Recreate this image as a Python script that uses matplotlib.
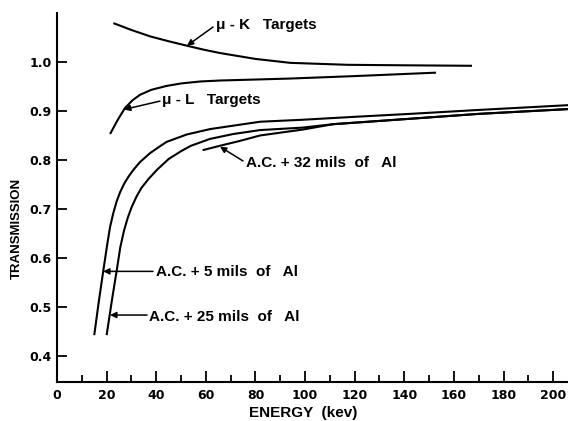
import numpy as np
import matplotlib
matplotlib.use('Agg')
import matplotlib.pyplot as plt
from matplotlib.ticker import MultipleLocator

plt.rcParams['font.family'] = ['Liberation Sans', 'DejaVu Sans']

# ─── data ───

# mu-K targets
k_energy = [22.7, 30, 37.5, 45, 52.3, 59, 65.7, 80, 94, 117, 140, 167.3]
k_trans = [1.079, 1.065, 1.052, 1.042, 1.033, 1.025, 1.018, 1.006, 0.998, 0.994, 0.993, 0.992]

# mu-L targets
l_energy = [21.4, 24.5, 27.4, 30.5, 33.5, 38, 44.2, 50, 57.7, 65.7, 80, 94, 120, 152.8]
l_trans = [0.853, 0.882, 0.906, 0.922, 0.933, 0.943, 0.951, 0.956, 0.960, 0.962, 0.964, 0.966, 0.971, 0.978]

# A.C. + 5 mils of Al
al5_energy = [15.0, 16.8, 18.7, 20.3, 21.4, 22.7, 24.0, 25.4, 27.0, 28.8, 30.8, 33.5, 37.5,
              41.5, 44.2, 52.3, 61.7, 71.1, 81.9, 99, 120, 142.3, 170, 207]
al5_trans = [0.443, 0.510, 0.576, 0.630, 0.664, 0.692, 0.715, 0.734, 0.751, 0.766, 0.780, 0.796, 0.814,
             0.828, 0.837, 0.852, 0.863, 0.870, 0.878, 0.882, 0.888, 0.894, 0.902, 0.912]

# A.C. + 25 mils of Al
al25_energy = [20.0, 22.0, 24.1, 25.5, 27.0, 28.5, 30.0, 32.0, 34.0, 37.0, 40.5, 45.0, 50.0,
               54.0, 61.7, 71.1, 81.9, 99, 111.4, 142.3, 170, 207]
al25_trans = [0.443, 0.510, 0.576, 0.622, 0.656, 0.682, 0.703, 0.725, 0.743, 0.762, 0.781, 0.802, 0.818,
              0.829, 0.843, 0.853, 0.861, 0.866, 0.873, 0.884, 0.894, 0.904]

# A.C. + 32 mils of Al
al32_energy = [58.7, 65.7, 73.8, 81.9, 99, 111.4, 142.3, 170, 207]
al32_trans = [0.820, 0.829, 0.839, 0.850, 0.862, 0.873, 0.884, 0.894, 0.904]

x_ticks = list(range(0, 201, 20))
y_ticks = [0.4, 0.5, 0.6, 0.7, 0.8, 0.9, 1.0]

fig = plt.figure(figsize=(5.68, 4.21), dpi=100)
ax = fig.add_axes([0.1004, 0.0926, 0.8996, 0.877])

for e, t in [(k_energy, k_trans), (l_energy, l_trans), (al5_energy, al5_trans),
             (al25_energy, al25_trans), (al32_energy, al32_trans)]:
    ax.plot(e, t, color='black', lw=1.5, solid_capstyle='butt', solid_joinstyle='round')

ax.set_xlim(0, 206)
ax.set_ylim(0.3475, 1.1)

ax.spines['top'].set_visible(False)
ax.spines['right'].set_visible(False)
for s in ['left', 'bottom']:
    ax.spines[s].set_linewidth(1.5)

ax.set_xticks(x_ticks)
ax.set_xticklabels([str(v) for v in x_ticks])
ax.xaxis.set_minor_locator(MultipleLocator(10))
ax.set_yticks(y_ticks)
ax.set_yticklabels([f"{v:.1f}" for v in y_ticks])

ax.tick_params(axis='x', which='major', direction='in', length=8, width=1.3,
               labelsize=9, pad=5)
ax.tick_params(axis='x', which='minor', direction='in', length=5, width=1.3)
ax.tick_params(axis='y', which='major', direction='in', length=7, width=1.3,
               labelsize=9, pad=4)
for lab in ax.get_xticklabels() + ax.get_yticklabels():
    lab.set_fontweight('bold')
    lab.set_family('DejaVu Sans')

ax.set_xlabel("ENERGY  (kev)", fontsize=11, fontweight='bold')
ax.xaxis.set_label_coords(0.481, -0.066)
ax.set_ylabel("TRANSMISSION", fontsize=9.5, fontweight='bold')
ax.yaxis.set_label_coords(-0.066, 0.417)

arrow = dict(arrowstyle='-|>', color='black', lw=1.1, mutation_scale=9,
             shrinkA=0, shrinkB=0)
txt = dict(fontsize=11, fontweight='bold', ha='left', va='center')

# labels with leader arrows
ax.annotate("", xy=(52.4, 1.033), xytext=(62.9, 1.071), arrowprops=arrow)
ax.text(64.0, 1.0755, "\u03bc - K   Targets", **txt)

ax.annotate("", xy=(27.0, 0.903), xytext=(41.5, 0.920), arrowprops=arrow)
ax.text(42.5, 0.922, "\u03bc - L   Targets", **txt)

ax.annotate("", xy=(65.7, 0.827), xytext=(75.0, 0.798), arrowprops=arrow)
ax.text(76.2, 0.794, "A.C. + 32 mils  of   Al", **txt)

ax.annotate("", xy=(18.6, 0.573), xytext=(38.7, 0.573), arrowprops=arrow)
ax.text(39.8, 0.572, "A.C. + 5 mils  of   Al", **txt)

ax.annotate("", xy=(21.4, 0.484), xytext=(36.3, 0.484), arrowprops=arrow)
ax.text(37.0, 0.481, "A.C. + 25 mils  of   Al", **txt)

fig.savefig("out.png", dpi=100)
